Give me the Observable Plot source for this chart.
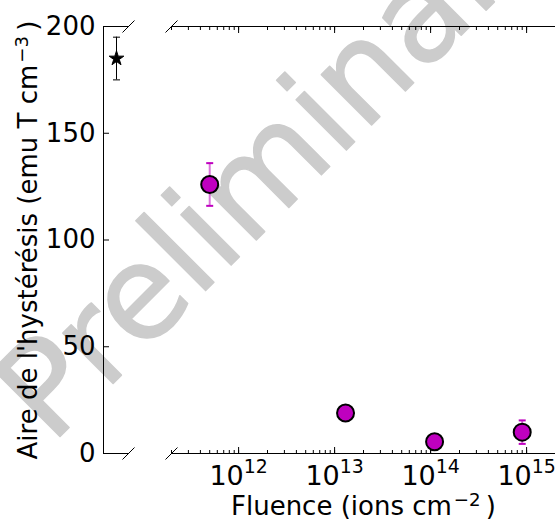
<!DOCTYPE html>
<html><head><meta charset="utf-8">
<script src="https://cdn.jsdelivr.net/npm/d3@7"></script>
<script src="https://cdn.jsdelivr.net/npm/@observablehq/plot@0.6"></script>
<style>
body{margin:0;background:#fff;}
#wrap{position:relative;width:555px;height:522px;overflow:hidden;}
#wrap svg{position:absolute;top:0;overflow:visible;}
</style></head><body><div id="wrap"></div>
<script>
// ---- data ----
const refLabel = ["référence"];
const refValue = [185];
const refError = [10];
const fluence = [5e11, 1.3e13, 1.1e14, 9e14];
const area = [126, 19, 5.5, 10];
const areaError = [10, 0, 0, 5.5];
const yTicks = [0, 50, 100, 150, 200];
const xMajorTicks = [1e12, 1e13, 1e14, 1e15];
const xTickExponents = ["12", "13", "14", "15"];
const yLabel = "Aire de l'hystérésis (emu T cm^{−3})";
const xLabel = "Fluence (ions cm^{−2})";
const watermark = "Preliminary";

const FONT = "DejaVu Sans";
const MAG = "#bf00bf";

const ref = refLabel.map((k, i) => ({k, v: refValue[i], e: refError[i]}));
const pts = fluence.map((x, i) => ({x, y: area[i], e: areaError[i]}));
const ptsErr = pts.filter(d => d.e > 0);
const ptsCaps = ptsErr.flatMap(d => [{x: d.x, y: d.y - d.e}, {x: d.x, y: d.y + d.e}]);
const refCaps = ref.flatMap(d => [{k: d.k, y: d.v - d.e}, {k: d.k, y: d.v + d.e}]);

const slash = {draw(c, size) { const a = Math.sqrt(size / Math.PI); c.moveTo(-a, a); c.lineTo(a, -a); }};
const hbar = {draw(c, size) { const a = Math.sqrt(size / Math.PI); c.moveTo(-a, 0); c.lineTo(a, 0); }};

const baseStyle = {fontFamily: FONT, fontSize: "26px", background: "transparent", color: "black", overflow: "visible"};

// ---- watermark ----
const wm = Plot.plot({
  width: 555, height: 522, margin: 0,
  style: baseStyle,
  marks: [
    Plot.text([watermark], {text: d => d, frameAnchor: "middle", textAnchor: "middle", rotate: -45, fontSize: 130,
      fill: "#cccccc", stroke: "#cccccc", strokeWidth: 1.5, dx: 3, dy: -105, fontFamily: FONT})
  ]
});
wm.style.left = "0px";

// ---- left panel (reference) ----
const left = Plot.plot({
  width: 135, height: 522, marginLeft: 103, marginRight: 7, marginTop: 26, marginBottom: 69,
  style: baseStyle,
  x: {type: "point", domain: refLabel, axis: null},
  y: {domain: [0, 200], axis: null},
  marks: [
    Plot.frame({anchor: "left", stroke: "black"}),
    Plot.ruleY([0, 200], {stroke: "black"}),
    Plot.axisY(yTicks, {anchor: "left", tickSize: 6, dx: 6, tickPadding: 8, label: null, fontSize: 26}),
    Plot.text([yLabel], {text: d => d, frameAnchor: "left", textAnchor: "middle", rotate: -90, dx: -75, fontSize: 26}),
    Plot.dot([0], {frameAnchor: "top-right", symbol: slash, r: 6, stroke: "black", fill: "none", strokeWidth: 1}),
    Plot.dot([0], {frameAnchor: "bottom-right", symbol: slash, r: 6, stroke: "black", fill: "none", strokeWidth: 1}),
    Plot.ruleX(ref, {x: "k", y1: d => d.v - d.e, y2: d => d.v + d.e, stroke: "black", strokeWidth: 1}),
    Plot.dot(refCaps, {x: "k", y: "y", symbol: hbar, r: 3.5, stroke: "black", fill: "none", strokeWidth: 1}),
    Plot.dot(ref, {x: "k", y: "v", symbol: "star", r: 4.6, fill: "black", stroke: "black", strokeWidth: 1})
  ]
});
left.style.left = "0px";

// ---- right panel (log fluence) ----
const right = Plot.plot({
  width: 420, height: 522, marginLeft: 36, marginRight: 0, marginTop: 26, marginBottom: 69,
  style: baseStyle,
  x: {type: "log", domain: [2e11, 2e15], axis: null},
  y: {domain: [0, 200], axis: null},
  marks: [
    Plot.ruleY([0, 200], {stroke: "black"}),
    Plot.axisX({anchor: "bottom", ticks: 10, tickSize: 3, dy: -3, text: null, tickFormat: () => "", label: null}),
    Plot.axisX({anchor: "top", ticks: 10, tickSize: 3, dy: 3, text: null, tickFormat: () => "", label: null}),
    Plot.axisX(xMajorTicks, {anchor: "bottom", tickSize: 6, dy: -6, text: null, tickFormat: () => "", label: null}),
    Plot.axisX(xMajorTicks, {anchor: "top", tickSize: 6, dy: 6, text: null, tickFormat: () => "", label: null}),
    Plot.axisX(xMajorTicks, {anchor: "bottom", tickSize: 0, tickPadding: 12, fontSize: 27,
      tickFormat: d => "10^{" + xTickExponents[xMajorTicks.indexOf(d)] + "}", label: null}),
    Plot.text([xLabel], {text: d => d, frameAnchor: "bottom", textAnchor: "middle", dy: 61, fontSize: 26}),
    Plot.dot([0], {frameAnchor: "top-left", symbol: slash, r: 6, stroke: "black", fill: "none", strokeWidth: 1}),
    Plot.dot([0], {frameAnchor: "bottom-left", symbol: slash, r: 6, stroke: "black", fill: "none", strokeWidth: 1}),
    Plot.ruleX(ptsErr, {x: "x", y1: d => d.y - d.e, y2: d => d.y + d.e, stroke: MAG, strokeOpacity: 0.55, strokeWidth: 2}),
    Plot.dot(ptsCaps, {x: "x", y: "y", symbol: hbar, r: 3.5, stroke: MAG, fill: "none", strokeWidth: 2}),
    Plot.dot(pts, {x: "x", y: "y", r: 8.5, fill: MAG, stroke: "black", strokeWidth: 2})
  ]
});
right.style.left = "135px";

// ---- superscripts (mathtext-like) ----
function superscripts(svg) {
  svg.querySelectorAll("text").forEach(t => {
    const s = t.textContent;
    const m = s.match(/^(.*)\^\{(.+?)\}(.*)$/);
    if (!m) return;
    const tick = m[1] === "10";
    const shift = tick ? 12 : 9;
    const ns = "http://www.w3.org/2000/svg";
    while (t.firstChild) t.removeChild(t.firstChild);
    const a = document.createElementNS(ns, "tspan");
    a.textContent = m[1];
    t.appendChild(a);
    const b = document.createElementNS(ns, "tspan");
    b.setAttribute("font-size", "70%");
    b.setAttribute("dy", -shift);
    if (!tick) b.setAttribute("dx", 2);
    b.textContent = m[2];
    t.appendChild(b);
    if (m[3]) {
      const c = document.createElementNS(ns, "tspan");
      c.setAttribute("dy", shift);
      c.textContent = "\u2009" + m[3];
      t.appendChild(c);
    }
  });
}
superscripts(left);
superscripts(right);

const wrap = document.getElementById("wrap");
wrap.appendChild(wm);
wrap.appendChild(left);
wrap.appendChild(right);
</script>
</body></html>
